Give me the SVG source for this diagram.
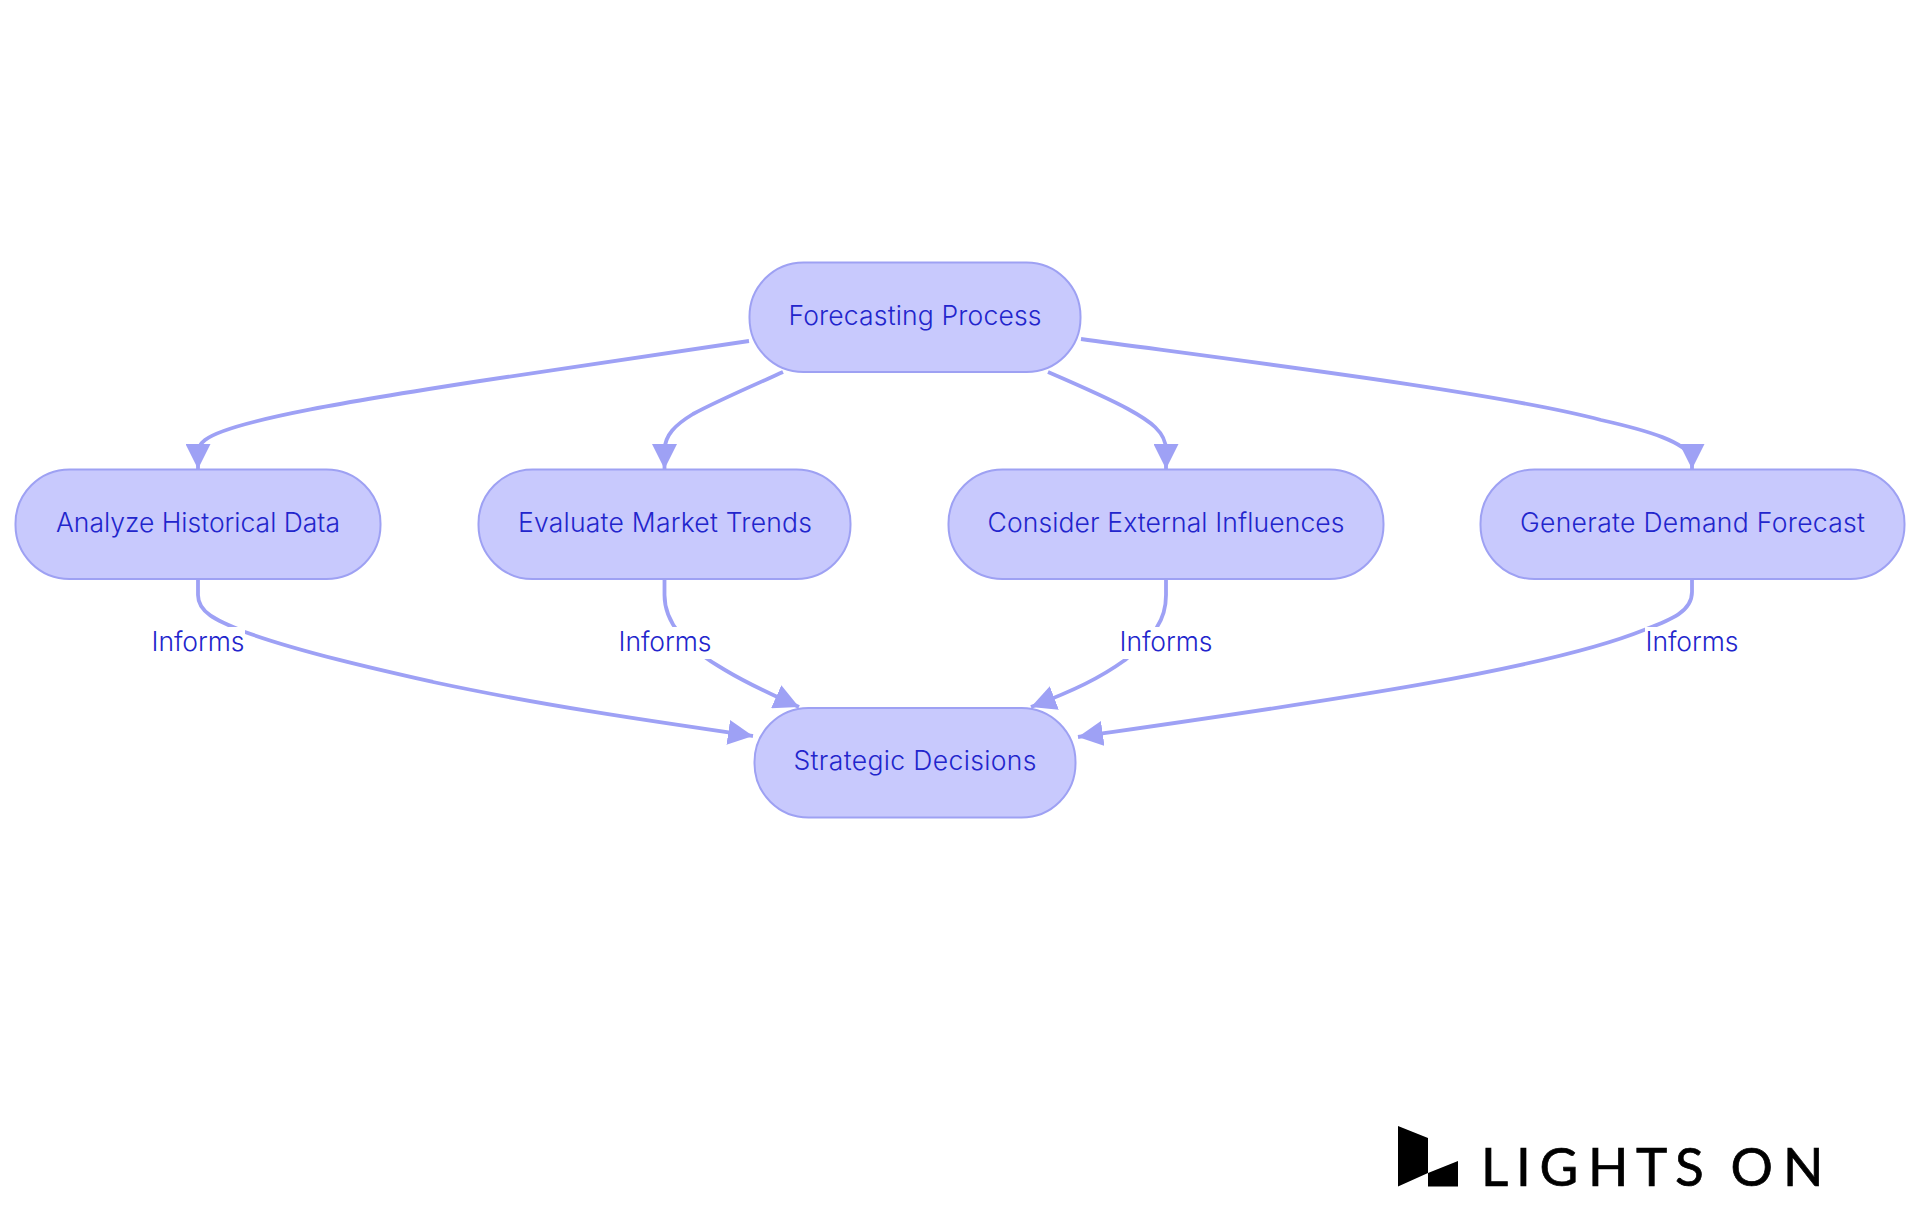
<svg xmlns="http://www.w3.org/2000/svg" width="1920" height="1215" viewBox="0 0 1920 1215">
<style>
.bg{fill:#fff}
.node rect{fill:#C8C9FD;stroke:#9EA1F3;stroke-width:2}
.t{font-family:Inter,"Noto Sans","Liberation Sans",sans-serif;font-size:26.5px;font-weight:300;fill:#2225CC;text-anchor:middle}
.edge{fill:none;stroke:#9EA1F5;stroke-width:3.8;marker-end:url(#arrow)}
.lb{fill:#fff}
.logo-t{font-family:Lato,"Liberation Sans",sans-serif;font-size:53px;fill:#000;stroke:#000;stroke-width:.7}
</style>
<defs>
<marker id="arrow" markerUnits="userSpaceOnUse" markerWidth="25" markerHeight="25" viewBox="0 0 10 10" refX="10" refY="5" orient="auto"><path d="M0,0L10,5L0,10z" fill="#9EA1F5"/></marker>
</defs>
<rect class="bg" width="1920" height="1215"/>
<g id="connectors">
<path class="edge" d="M749,341C640,357 560,369 480,381C370,398 230,420 205,440C200,444 198,447 198,455L198,469"/>
<path class="edge" d="M783,372C745,389 715,402 693,414C675,425 665,435 664.500,450L664.500,469"/>
<path class="edge" d="M1048,372C1085,388 1110,399 1128,409C1150,421 1166,432 1166,450L1166,469"/>
<path class="edge" d="M1081,339C1250,362 1500,393 1601,420C1650,431 1685,442 1692,458L1692,469"/>
<path class="edge" d="M198,579L198,595C198,612 215,620 245,632C300,652 380,670 433,682C540,705 650,721 753,736"/>
<path class="edge" d="M664.500,579L664.500,595C664.500,625 690,650 725,670C745,682 770,694 799,707"/>
<path class="edge" d="M1166,579L1166,595C1166,620 1155,635 1125,660C1100,678 1075,690 1031,707"/>
<path class="edge" d="M1692,579L1692,592C1692,612 1670,620 1644,630C1540,672 1300,705 1078,737"/>
</g>
<g id="edge-labels">
<g id="label-1"><rect class="lb" x="151" y="627" width="94" height="32"/><text class="t" x="198" y="651" textLength="93">Informs</text></g>
<g id="label-2"><rect class="lb" x="618" y="627" width="94" height="32"/><text class="t" x="665" y="651" textLength="93">Informs</text></g>
<g id="label-3"><rect class="lb" x="1119" y="627" width="94" height="32"/><text class="t" x="1166" y="651" textLength="93">Informs</text></g>
<g id="label-4"><rect class="lb" x="1645" y="627" width="94" height="32"/><text class="t" x="1692" y="651" textLength="93">Informs</text></g>
</g>
<g id="n-forecasting" class="node"><rect x="749.500" y="262.500" width="331" height="109.500" rx="54"/><text class="t" x="915" y="325" textLength="253">Forecasting Process</text></g>
<g id="n-analyze" class="node"><rect x="15.500" y="469.500" width="365" height="109.500" rx="54"/><text class="t" x="198" y="532" textLength="284">Analyze Historical Data</text></g>
<g id="n-evaluate" class="node"><rect x="478.500" y="469.500" width="372" height="109.500" rx="54"/><text class="t" x="665" y="532" textLength="294">Evaluate Market Trends</text></g>
<g id="n-consider" class="node"><rect x="948.500" y="469.500" width="435" height="109.500" rx="54"/><text class="t" x="1166" y="532" textLength="357">Consider External Influences</text></g>
<g id="n-generate" class="node"><rect x="1480.500" y="469.500" width="424" height="109.500" rx="54"/><text class="t" x="1692.500" y="532" textLength="345">Generate Demand Forecast</text></g>
<g id="n-strategic" class="node"><rect x="754.500" y="708" width="321" height="109.500" rx="54"/><text class="t" x="915" y="770" textLength="243">Strategic Decisions</text></g>
<g id="logo">
<path d="M1398,1126L1428,1138L1428,1173L1398,1186.500zM1428,1173L1458,1161L1458,1186.500L1428,1186.500z" fill="#000"/>
<text class="logo-t" x="1481 1516 1539.500 1588 1636 1675 1710 1730.500 1783" y="1186">LIGHTS ON</text>
</g>
</svg>
